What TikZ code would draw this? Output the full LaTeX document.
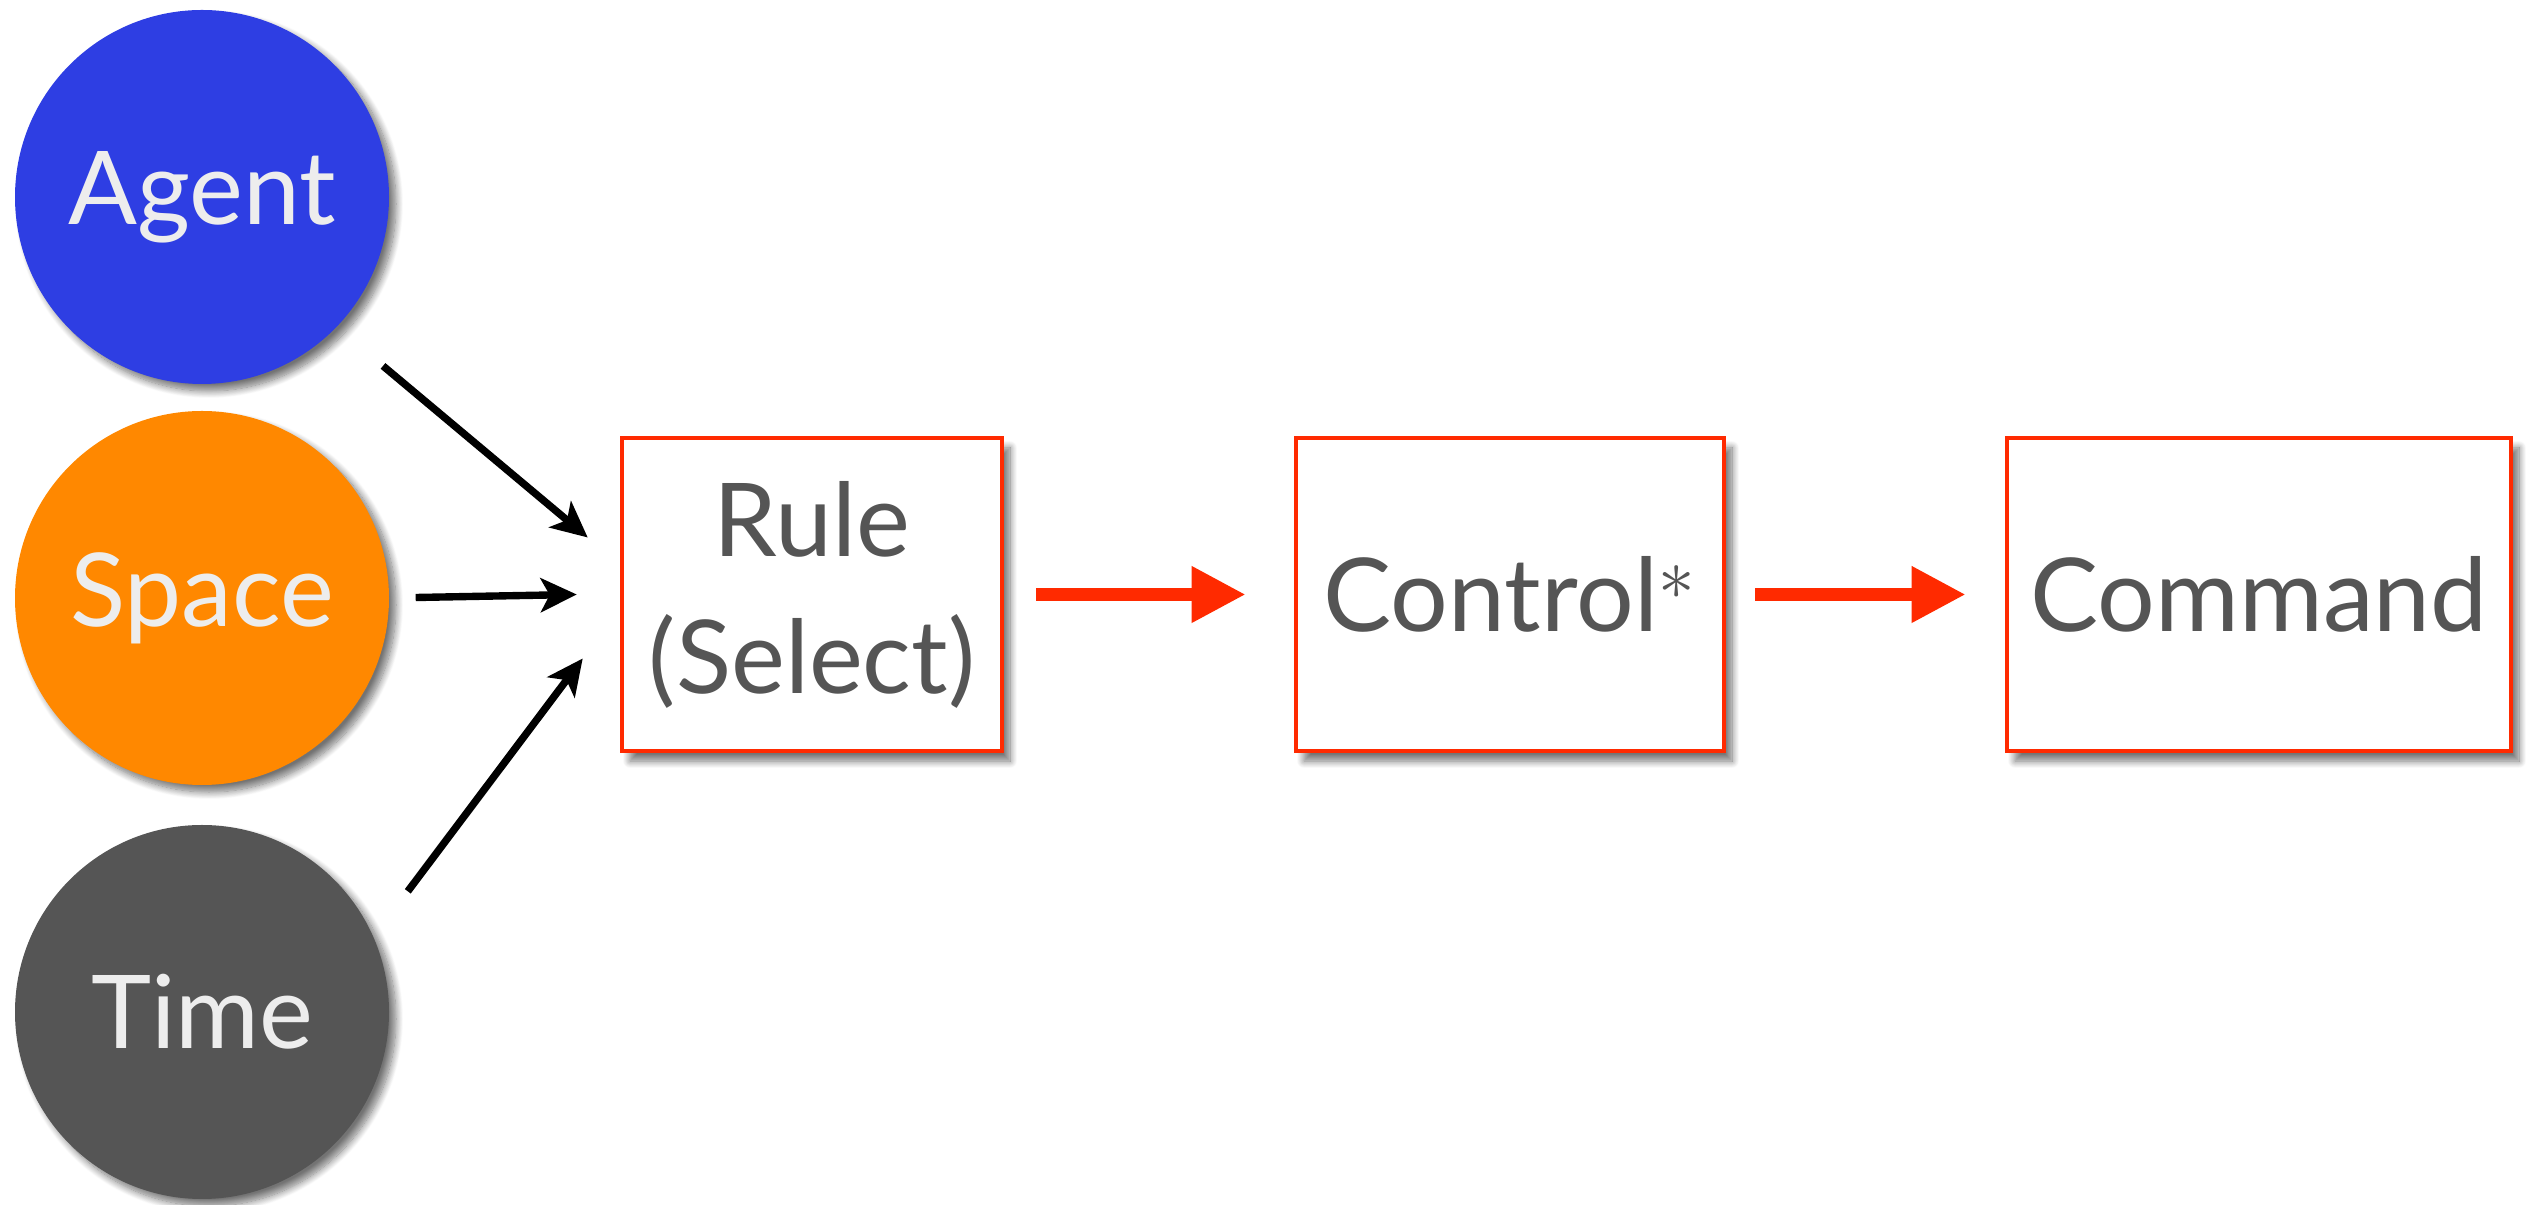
\documentclass[tikz,border=0pt]{standalone}
\usepackage{fontspec}
\setmainfont{Lato}
\usetikzlibrary{arrows.meta, shadows.blur}

\definecolor{agentblue}{HTML}{2E3EE3}
\definecolor{spaceorange}{HTML}{FF8800}
\definecolor{timegray}{HTML}{555555}
\definecolor{boxred}{HTML}{FF2A00}
\definecolor{labelgray}{HTML}{555555}

\begin{document}
\begin{tikzpicture}[
    factor/.style = {
        circle,
        minimum size=3.74cm,
        text=white!93!black,
        font=\fontsize{29}{36}\selectfont,
        blur shadow={shadow xshift=0.07cm, shadow yshift=-0.07cm, shadow blur steps=12, shadow opacity=55}
    },
    block/.style = {
        rectangle,
        draw=boxred,
        line width=1.3pt,
        fill=white,
        align=center,
        text=labelgray,
        font=\fontsize{29}{39}\selectfont,
        minimum height=3.13cm,
        blur shadow={shadow xshift=0.08cm, shadow yshift=-0.1cm, shadow blur steps=12, shadow opacity=55}
    },
    feed/.style = {
        draw=black,
        line width=2.1pt,
        -{Stealth[length=0.36cm, width=0.34cm, inset=0.09cm]}
    },
    flow/.style = {
        draw=boxred,
        line width=3.7pt,
        -{Triangle[length=0.54cm, width=0.53cm]}
    }
]
\useasboundingbox (0,0) rectangle (25.34,-12.05);

% Nodes with explicit coordinates
\node[factor, fill=agentblue]   (agent) at (2.02,-1.97)  {Agent};
\node[factor, fill=spaceorange] (space) at (2.02,-5.98)  {Space};
\node[factor, fill=timegray]    (time)  at (2.02,-10.12) {Time};

\node[block, minimum width=3.80cm] (rule)    at (8.12,-5.945)  {Rule\\(Select)};
\node[block, minimum width=4.28cm] (control) at (15.10,-5.945) {Control$^{\ast}$};
\node[block, minimum width=5.04cm] (command) at (22.59,-5.945) {Command};

% Arrows into the rule
\draw[feed, shorten <=0.6cm] (agent.-44) -- ([shift={(-0.32,0.57)}]rule.west);
\draw[feed, shorten <=0.26cm] (space.east) -- ([shift={(-0.43,0)}]rule.west);
\draw[feed] ([shift={(0.62,0)}]time.40) -- ([shift={(-0.37,-0.64)}]rule.west);

% Arrows (main pipeline)
\draw[flow, shorten <=0.32cm, shorten >=0.48cm] (rule) -- (control);
\draw[flow, shorten <=0.29cm, shorten >=0.39cm] (control) -- (command);

\end{tikzpicture}
\end{document}
